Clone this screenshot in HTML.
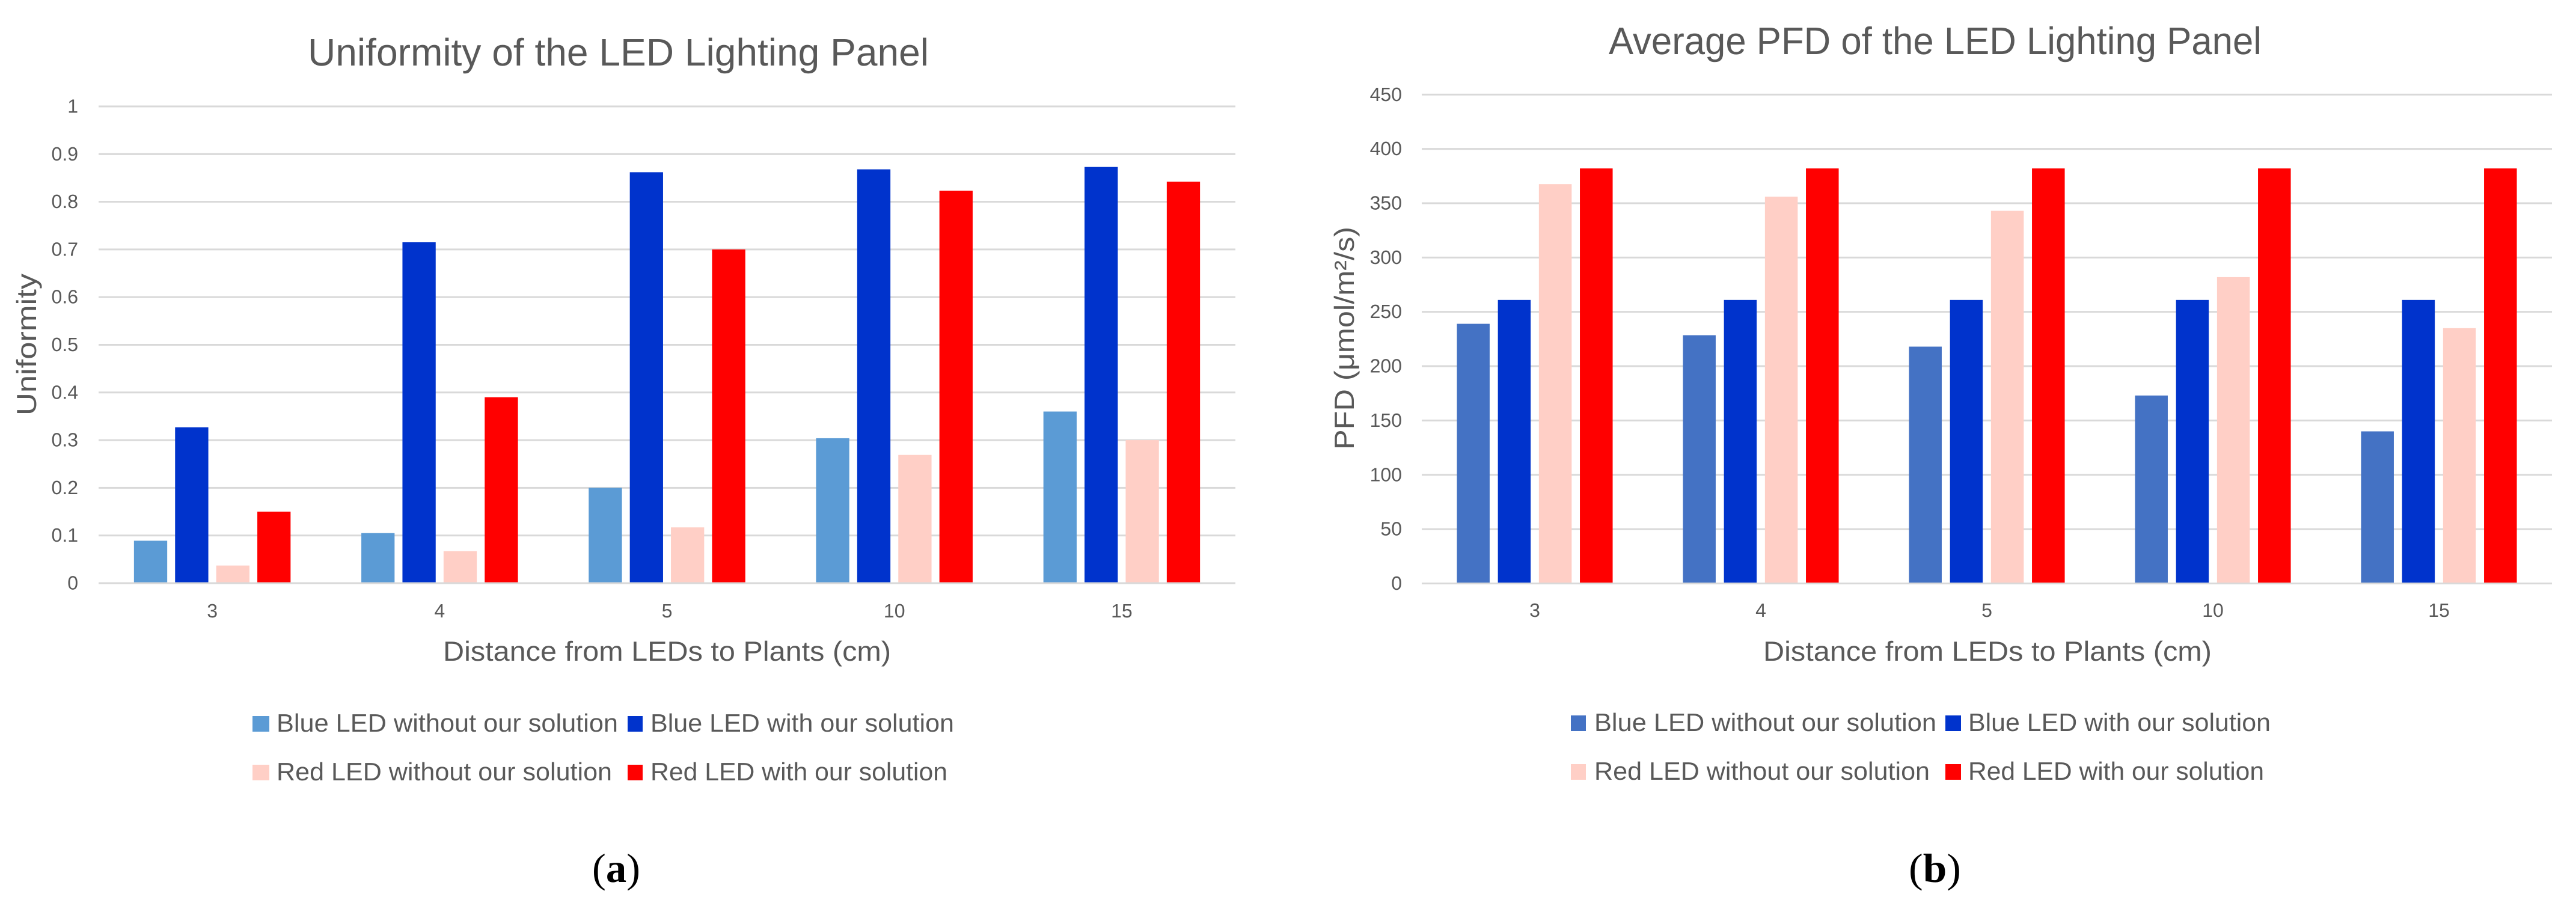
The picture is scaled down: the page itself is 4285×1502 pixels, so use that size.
<!DOCTYPE html>
<html lang="en">
<head>
<meta charset="utf-8">
<title>LED Lighting Panel Charts</title>
<style>
html,body{margin:0;padding:0;background:#fff;}
svg{display:block;}
text{font-family:"Liberation Sans",sans-serif;fill:#595959;text-rendering:geometricPrecision;}
.cap{font-family:"Liberation Serif",serif;fill:#000;font-size:68px;}
.leg{font-size:42px;}
.atitle{font-size:46px;}
.title{font-size:64px;}
</style>
</head>
<body>
<svg id="figure" xmlns="http://www.w3.org/2000/svg" width="4285" height="1502" viewBox="0 0 4285 1502">
<rect x="0" y="0" width="4285" height="1502" fill="#ffffff"/>

<g id="chart-a">
<text class="title" x="512" y="109" textLength="1033" lengthAdjust="spacingAndGlyphs">Uniformity of the LED Lighting Panel</text>
<text class="atitle" transform="translate(60,691) rotate(-90)" textLength="236" lengthAdjust="spacingAndGlyphs">Uniformity</text>
<text class="atitle" x="737" y="1099" textLength="745" lengthAdjust="spacingAndGlyphs">Distance from LEDs to Plants (cm)</text>
<g>
<rect x="420" y="1191" width="28" height="26" fill="#5B9BD5"/>
<text class="leg" x="460" y="1217" textLength="568" lengthAdjust="spacingAndGlyphs">Blue LED without our solution</text>
<rect x="1044" y="1191" width="25" height="26" fill="#0033CC"/>
<text class="leg" x="1082" y="1217" textLength="505" lengthAdjust="spacingAndGlyphs">Blue LED with our solution</text>
<rect x="420" y="1272" width="28" height="26" fill="#FFCFC6"/>
<text class="leg" x="460" y="1298" textLength="558" lengthAdjust="spacingAndGlyphs">Red LED without our solution</text>
<rect x="1044" y="1272" width="25" height="26" fill="#FF0000"/>
<text class="leg" x="1082" y="1298" textLength="494" lengthAdjust="spacingAndGlyphs">Red LED with our solution</text>
</g>
<text class="cap" x="985" y="1467" textLength="80" lengthAdjust="spacingAndGlyphs">(<tspan font-weight="bold">a</tspan>)</text>
</g>

<g id="chart-b">
<text class="title" x="2676" y="90" textLength="1086" lengthAdjust="spacingAndGlyphs">Average PFD of the LED Lighting Panel</text>
<text class="atitle" transform="translate(2252,748) rotate(-90)" textLength="371" lengthAdjust="spacingAndGlyphs">PFD (μmol/m²/s)</text>
<text class="atitle" x="2933" y="1099" textLength="746" lengthAdjust="spacingAndGlyphs">Distance from LEDs to Plants (cm)</text>
<g>
<rect x="2613" y="1190" width="25" height="26" fill="#4472C4"/>
<text class="leg" x="2652" y="1216" textLength="569" lengthAdjust="spacingAndGlyphs">Blue LED without our solution</text>
<rect x="3236" y="1190" width="26" height="26" fill="#0033CC"/>
<text class="leg" x="3274" y="1216" textLength="503" lengthAdjust="spacingAndGlyphs">Blue LED with our solution</text>
<rect x="2613" y="1271" width="25" height="26" fill="#FFCFC6"/>
<text class="leg" x="2652" y="1297" textLength="558" lengthAdjust="spacingAndGlyphs">Red LED without our solution</text>
<rect x="3236" y="1271" width="26" height="26" fill="#FF0000"/>
<text class="leg" x="3274" y="1297" textLength="492" lengthAdjust="spacingAndGlyphs">Red LED with our solution</text>
</g>
<text class="cap" x="3175" y="1467" textLength="87" lengthAdjust="spacingAndGlyphs">(<tspan font-weight="bold">b</tspan>)</text>
</g>
</svg>

<script>
var categories = ["3", "4", "5", "10", "15"];

var uniformityTicks = ["0", "0.1", "0.2", "0.3", "0.4", "0.5", "0.6", "0.7", "0.8", "0.9", "1"];
var uniformityBlueWithout = [0.089, 0.105, 0.20, 0.304, 0.36];
var uniformityBlueWith = [0.327, 0.715, 0.862, 0.868, 0.873];
var uniformityRedWithout = [0.037, 0.067, 0.117, 0.269, 0.30];
var uniformityRedWith = [0.15, 0.39, 0.70, 0.823, 0.842];

var pfdTicks = ["0", "50", "100", "150", "200", "250", "300", "350", "400", "450"];
var pfdBlueWithout = [239, 228.5, 218, 173, 140];
var pfdBlueWith = [261, 261, 261, 261, 261];
var pfdRedWithout = [367.6, 356, 343, 282, 235];
var pfdRedWith = [382, 382, 382, 382, 382];

var seriesKeys = ["blue-without", "blue-with", "red-without", "red-with"];

var SVG_NS = "http://www.w3.org/2000/svg";

function drawChart(cfg) {
  var parent = document.getElementById(cfg.parentId);
  var plotWidth = cfg.right - cfg.left;
  var groupWidth = plotWidth / categories.length;
  var maxTick = parseFloat(cfg.ticks[cfg.ticks.length - 1]);

  function yScale(v) {
    return cfg.bottom - (v / maxTick) * (cfg.bottom - cfg.top);
  }
  function xScale(i) {
    return cfg.left + groupWidth * (i + 0.5);
  }

  cfg.ticks.forEach(function (label) {
    var y = yScale(parseFloat(label));
    var line = document.createElementNS(SVG_NS, "rect");
    line.setAttribute("x", cfg.left);
    line.setAttribute("y", y - 1.5);
    line.setAttribute("width", plotWidth);
    line.setAttribute("height", 3);
    line.setAttribute("fill", "#D9D9D9");
    
    
    parent.appendChild(line);

    var text = document.createElementNS(SVG_NS, "text");
    text.setAttribute("x", cfg.tickRight);
    text.setAttribute("y", y + 10.5);
    text.setAttribute("text-anchor", "end");
    text.setAttribute("font-size", "32");
    
    
    text.textContent = label;
    parent.appendChild(text);
  });

  categories.forEach(function (cat, i) {
    var center = xScale(i);
    var text = document.createElementNS(SVG_NS, "text");
    text.setAttribute("x", center);
    text.setAttribute("y", cfg.xTickY);
    text.setAttribute("text-anchor", "middle");
    text.setAttribute("font-size", "32");
    
    
    text.textContent = cat;
    parent.appendChild(text);

    cfg.series.forEach(function (values, s) {
      var top = yScale(values[i]);
      var rect = document.createElementNS(SVG_NS, "rect");
      rect.setAttribute("x", center + (s - 2) * cfg.barStep + (cfg.barStep - cfg.barWidth) / 2);
      rect.setAttribute("y", top);
      rect.setAttribute("width", cfg.barWidth);
      rect.setAttribute("height", cfg.bottom - top - 1.5);
      rect.setAttribute("fill", cfg.colors[s]);
      
      
      parent.appendChild(rect);
    });
  });
}

drawChart({
  parentId: "chart-a",
  ticks: uniformityTicks,
  series: [uniformityBlueWithout, uniformityBlueWith, uniformityRedWithout, uniformityRedWith],
  colors: ["#5B9BD5", "#0033CC", "#FFCFC6", "#FF0000"],
  left: 164, right: 2055, top: 177, bottom: 970,
  tickRight: 130, xTickY: 1027, barWidth: 55.3, barStep: 68.4
});

drawChart({
  parentId: "chart-b",
  ticks: pfdTicks,
  series: [pfdBlueWithout, pfdBlueWith, pfdRedWithout, pfdRedWith],
  colors: ["#4472C4", "#0033CC", "#FFCFC6", "#FF0000"],
  left: 2365, right: 4245, top: 157.3, bottom: 970.5,
  tickRight: 2332, xTickY: 1026, barWidth: 54.5, barStep: 68.2
});
</script>
</body>
</html>
